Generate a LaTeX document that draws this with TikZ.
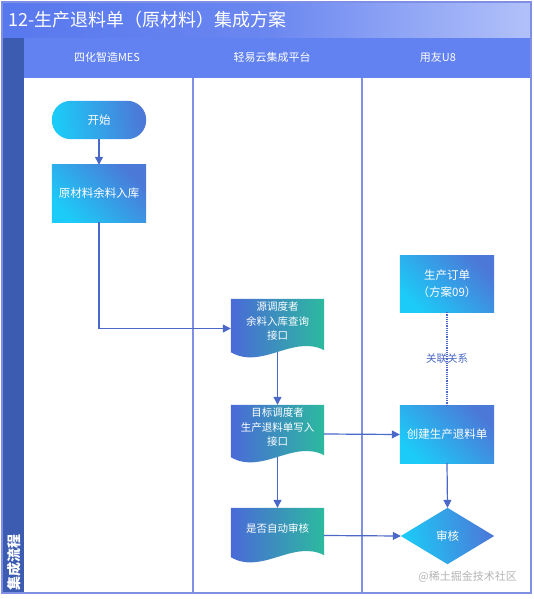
\documentclass[tikz,border=0pt]{standalone}
\usepackage{fontspec}
\setmainfont{Noto Sans CJK SC}
\usetikzlibrary{arrows.meta}
\definecolor{titleL}{HTML}{5878EE}
\definecolor{titleR}{HTML}{B2C1F9}
\definecolor{hdr}{HTML}{6282F1}
\definecolor{band}{HTML}{3C5CB2}
\definecolor{lane}{HTML}{7F8FE3}
\definecolor{arr}{HTML}{4A68C8}
\definecolor{cyanC}{HTML}{1CCBF7}
\definecolor{blueC}{HTML}{4C78D8}
\definecolor{docL}{HTML}{4A6AD8}
\definecolor{docR}{HTML}{2CBA9E}
\definecolor{wm}{HTML}{B4B4B4}
\tikzset{
  box/.style={inner sep=0pt, text=white, align=center, font=\fontsize{11.5}{17}\selectfont},
  procfill/.style={top color=blueC, bottom color=cyanC, shading angle=-45},
  docfill/.style={top color=docR, bottom color=docL, shading angle=-90},
  doctext/.style={text=white, align=center, font=\fontsize{10.5}{14.5}\selectfont, inner sep=0pt},
  hdrtext/.style={text=white, font=\fontsize{11}{13}\selectfont},
  flow/.style={draw=arr, line width=1.2pt, -{Triangle[length=8pt,width=8pt]}},
  link/.style={draw=arr, line width=1.2pt, densely dotted},
  laneline/.style={draw=lane, line width=1.2pt},
}
\newcommand{\docpath}[1]{%
  \shade[docfill] (#1.north west) -- (#1.north east) -- ([yshift=8pt]#1.south east)
    .. controls ([xshift=-31pt,yshift=24pt]#1.south east) and ([xshift=31pt,yshift=-12pt]#1.south west) .. ([yshift=6pt]#1.south west) -- cycle;}
\begin{document}
\begin{tikzpicture}[x=1pt,y=-1pt]
\useasboundingbox (0,0) rectangle (533,599);
% frame parts
\shade[left color=titleL, right color=titleR, middle color=titleL!80!titleR] (2,2) rectangle (531,38);
\fill[hdr] (24,38) rectangle (531,78);
\fill[band] (3,38) rectangle (24,593);
\fill[white] (24,78) rectangle (531,593);
\draw[laneline] (193,78) -- (193,593);
\draw[laneline] (362,78) -- (362,593);
\draw[draw=lane, line width=1.2pt] (2,2) rectangle (531,593);
\node[anchor=west, text=white, font=\fontsize{18}{20}\selectfont, inner sep=0pt] (title) at (8,20) {12-生产退料单（原材料）集成方案};
\node[hdrtext] (h1) at (107,57) {四化智造MES};
\node[hdrtext] (h2) at (272,57) {轻易云集成平台};
\node[hdrtext] (h3) at (438,57) {用友U8};
\node[rotate=90, anchor=west, text=white, font=\bfseries\fontsize{14}{16}\selectfont, inner sep=0pt] (bandt) at (14,591) {集成流程};
% nodes
\node[box, minimum width=94pt, minimum height=38pt] (start) at (99,120) {};
\shade[top color=blueC, bottom color=cyanC, shading angle=-80, rounded corners=19pt] (start.north west) rectangle (start.south east);
\node[box] (startt) at (start.center) {开始};

\node[box, minimum width=94pt, minimum height=57pt] (raw) at (99,193.5) {};
\shade[procfill] (raw.north west) rectangle (raw.south east);
\node[box] (rawt) at (raw.center) {原材料余料入库};

\node[minimum width=93pt, minimum height=59pt, inner sep=0pt] (d1) at (277.5,328.5) {};
\docpath{d1}
\node[doctext] (d1t) at (277.5,321) {源调度者\\余料入库查询\\接口};

\node[box, minimum width=94pt, minimum height=56pt] (order) at (447,284) {};
\shade[procfill] (order.north west) rectangle (order.south east);
\node[box] (ordert) at (order.center) {生产订单\\（方案09）};

\node[minimum width=93pt, minimum height=58pt, inner sep=0pt] (d2) at (277.5,434) {};
\docpath{d2}
\node[doctext] (d2t) at (277.5,427) {目标调度者\\生产退料单写入\\接口};

\node[box, minimum width=94pt, minimum height=57pt] (create) at (447,434.5) {};
\shade[procfill] (create.north west) rectangle (create.south east);
\node[box] (createt) at (create.center) {创建生产退料单};

\node[minimum width=93pt, minimum height=55pt, inner sep=0pt] (d3) at (277.5,535.5) {};
\docpath{d3}
\node[doctext] (d3t) at (277.5,528) {是否自动审核};

\node[box, minimum width=93pt, minimum height=56pt] (audit) at (447.5,536) {};
\shade[top color=blueC, bottom color=cyanC, shading angle=-80] (audit.north) -- (audit.east) -- (audit.south) -- (audit.west) -- cycle;
\node[box] (auditt) at (audit.center) {审核};

% connectors
\draw[flow] (start.south) -- (raw.north);
\draw[flow] (raw.south) |- (d1.west);
\draw[flow] ([yshift=6pt]d1.south) -- (d2.north);
\draw[flow] (d2.east) -- (create.west);
\draw[flow] ([yshift=6pt]d2.south) -- (d3.north);
\draw[flow] (create.south) -- (audit.north);
\draw[flow] (d3.east) -- (audit.west);
\draw[link] (order.south) -- node[text=arr, font=\fontsize{10.5}{12}\selectfont, inner sep=1pt] (rel) {关联关系} (create.north);

\node[anchor=east, text=wm, font=\fontsize{11}{13}\selectfont, inner sep=0pt] (wmk) at (517,577) {@稀土掘金技术社区};
\end{tikzpicture}
\end{document}
